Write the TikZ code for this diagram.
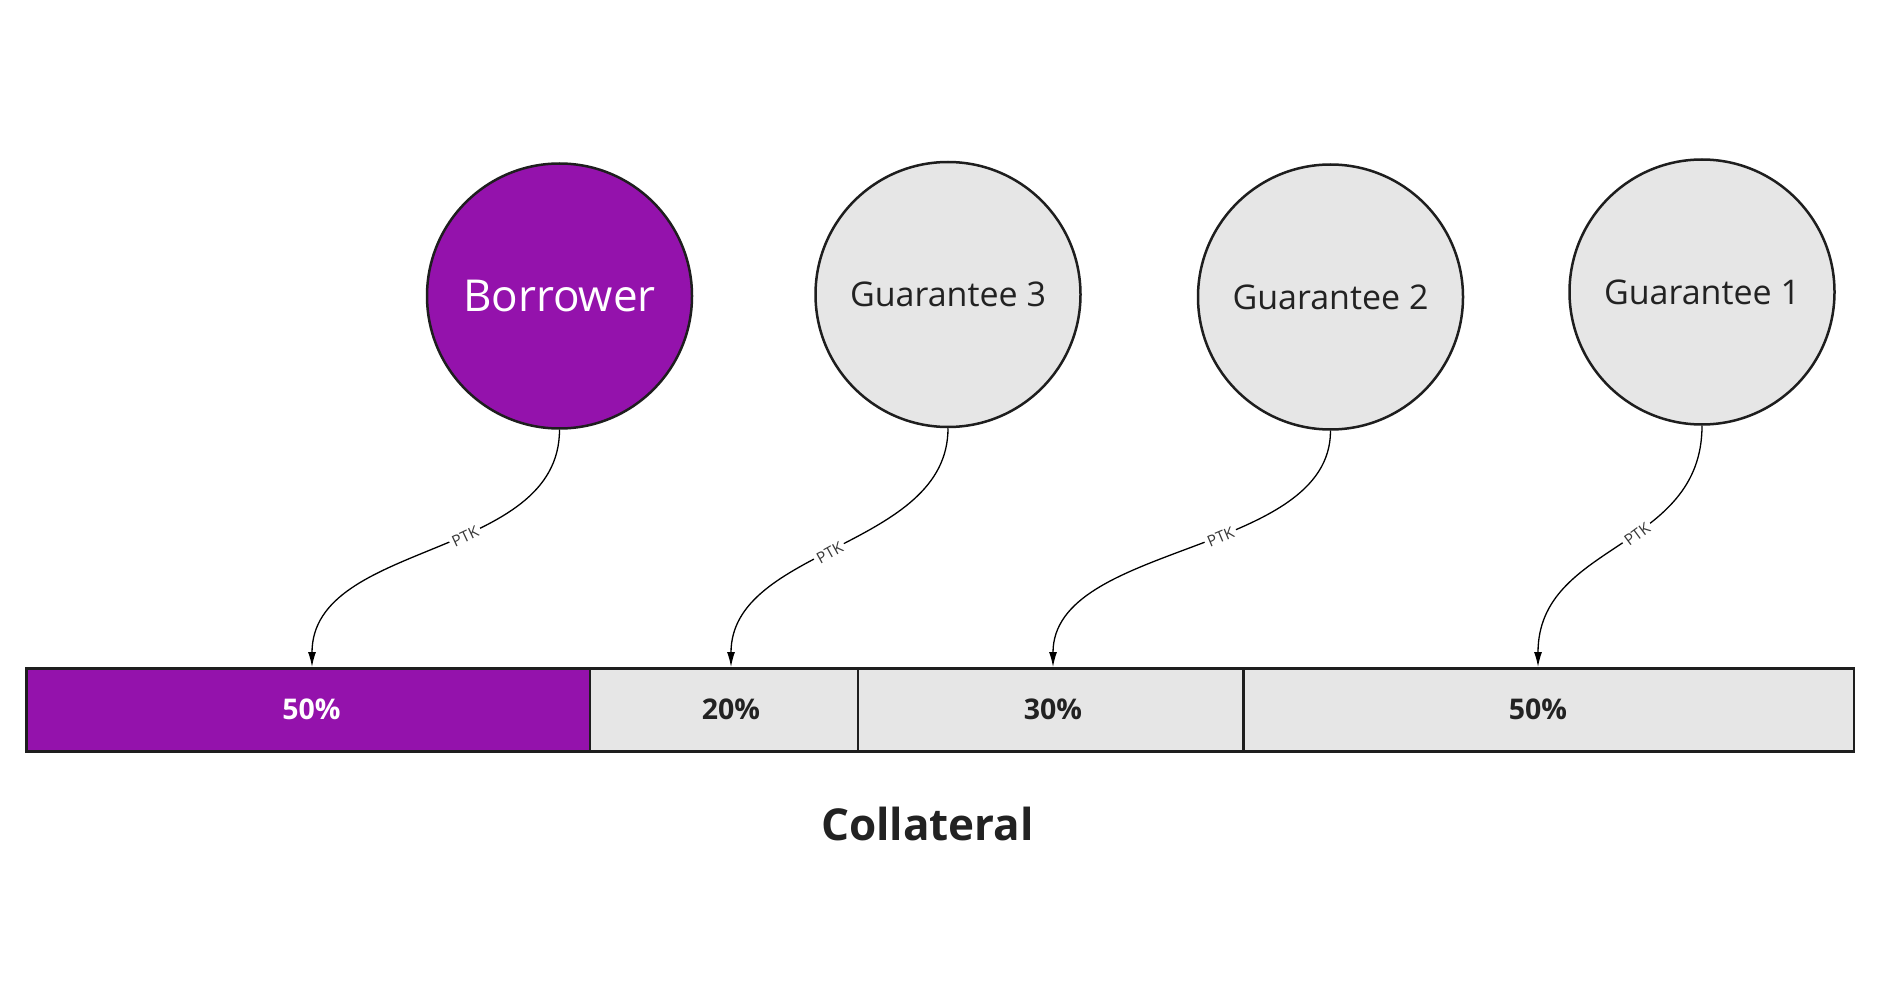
\documentclass[tikz,border=0pt]{standalone}
\usepackage{fontspec}
\setmainfont{Open Sans}
\usetikzlibrary{arrows.meta}
\definecolor{purp}{HTML}{9412AC}
\definecolor{lgrey}{HTML}{E6E6E6}
\definecolor{edge}{HTML}{1E1E1E}
\definecolor{ink}{HTML}{222222}
\tikzset{
  person/.style={circle, draw=edge, line width=2.5pt, minimum size=265pt, inner sep=0pt},
  borrower/.style={person, fill=purp, text=white, font=\fontsize{44}{52}\selectfont},
  guarantee/.style={person, fill=lgrey, text=ink, font=\fontsize{34}{40}\selectfont},
  seg/.style={rectangle, draw=edge, line width=2.5pt, minimum height=83pt, inner sep=0pt, anchor=north west},
  pct/.style={font=\fontsize{28.5}{34}\selectfont\bfseries, text=ink},
  conn/.style={draw=black, line width=1.3pt, -{Latex[length=15pt,width=8pt]}},
  ptk/.style={fill=white, inner sep=3pt, text=ink!90, font=\fontsize{15.5}{18}\selectfont, sloped}
}
\begin{document}
\begin{tikzpicture}[x=1pt,y=-1pt]
\useasboundingbox[fill=white] (0,0) rectangle (1880,1000);

% collateral bar
\node[seg, fill=purp, minimum width=563.5pt] (s1) at (25,667) {};
\node[seg, fill=lgrey, minimum width=268pt] (s2) at (588.5,667) {};
\node[seg, fill=lgrey, minimum width=385.5pt] (s3) at (856.5,667) {};
\node[seg, fill=lgrey, minimum width=610.5pt] (s4) at (1242,667) {};

\node[pct, text=white] (p1) at (311.5,709) {50\%};
\node[pct] (p2) at (731,709) {20\%};
\node[pct] (p3) at (1053,709) {30\%};
\node[pct] (p4) at (1538,709) {50\%};

\node[font=\fontsize{44}{52}\selectfont\bfseries, text=ink] (coll) at (927.5,824) {Collateral};

% people
\node[borrower] (b) at (559.5,296) {Borrower};
\node[guarantee] (g3) at (948,294.5) {Guarantee 3};
\node[guarantee] (g2) at (1330.5,297) {Guarantee 2};
\node[guarantee] (g1) at (1702,292) {Guarantee 1};

% arrow end points on the bar
\coordinate (e1) at (312,667);
\coordinate (e2) at (731,667);
\coordinate (e3) at (1053,667);
\coordinate (e4) at (1538,667);

\draw[conn] (b.south) .. controls +(0,130) and +(0,-127) .. (e1) node[ptk, pos=0.42] {PTK};
\draw[conn] (g3.south) .. controls +(0,120) and +(0,-120) .. (e2) node[ptk, pos=0.53] {PTK};
\draw[conn] (g2.south) .. controls +(0,125) and +(0,-125) .. (e3) node[ptk, pos=0.43] {PTK};
\draw[conn] (g1.south) .. controls +(0,125) and +(0,-125) .. (e4) node[ptk, pos=0.43] {PTK};
\end{tikzpicture}
\end{document}
